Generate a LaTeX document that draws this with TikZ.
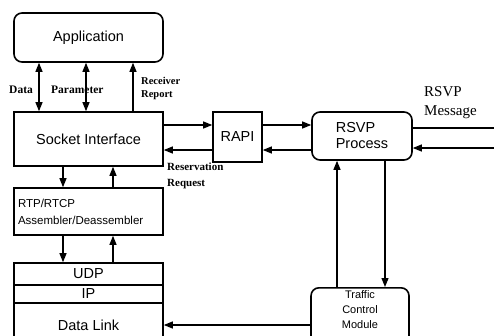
\documentclass[tikz,border=0pt]{standalone}
\usepackage{fontspec}
\setmainfont{Liberation Serif}
\newfontfamily\hv{Liberation Sans}
\usetikzlibrary{arrows.meta,calc}
\begin{document}
\begin{tikzpicture}[x=1pt,y=-1pt,
  box/.style={draw,line width=1.6pt,inner sep=0pt,font=\hv\fontsize{14.5}{16}\selectfont,align=center},
  rbox/.style={box,rounded corners=8pt},
  con/.style={line width=1.2pt},
  tip/.style={-{Triangle[length=9pt,width=7pt]}},
  dtip/.style={{Triangle[length=9pt,width=7pt]}-{Triangle[length=9pt,width=7pt]}},
  lab/.style={font=\bfseries\fontsize{11.5}{12}\selectfont,inner sep=0pt,anchor=west}]
\useasboundingbox (0,0) rectangle (494,335);
\clip (0,0) rectangle (494,335);
% boxes
\node[rbox,minimum width=149pt,minimum height=49pt] (app) at (88.5,37.5) {Application};
\node[box,minimum width=149pt,minimum height=54pt] (sock) at (88.5,139) {Socket Interface};
\node[box,minimum width=49pt,minimum height=50pt] (rapi) at (237.5,137) {RAPI};
\node[rbox,minimum width=100pt,minimum height=48pt,align=left] (rsvp) at (362,136) {RSVP\\Process};
\node[box,minimum width=149pt,minimum height=47pt,font=\hv\fontsize{11.5}{17}\selectfont,align=left,text width=141pt] (rtp) at (88.5,211.5) {RTP/RTCP\\Assembler/Deassembler};
\node[box,minimum width=149pt,minimum height=22pt] (udp) at (88.5,274) {UDP};
\node[box,minimum width=149pt,minimum height=18pt] (ip) at (88.5,294) {IP};
\node[box,minimum width=149pt,minimum height=44pt] (dl) at (88.5,325) {Data Link};
\node[rbox,minimum width=98pt,minimum height=66pt,anchor=north] (tc) at (360,287) {};
\node[font=\hv\fontsize{11}{15}\selectfont,align=center,anchor=north,inner sep=0pt] (tct) at (360,290) {Traffic\\Control\\Module};
% coordinates
\coordinate (xd) at (39,0);
\coordinate (xp) at (86,0);
\coordinate (xr) at (133,0);
\coordinate (xa) at (63,0);
\coordinate (xb) at (113,0);
\coordinate (y1) at (0,125);
\coordinate (y2) at (0,150);
\coordinate (ym1) at (0,128);
\coordinate (ym2) at (0,148);
\coordinate (edge1) at (494,128);
\coordinate (edge2) at (494,148);
\coordinate (xu) at (337,0);
\coordinate (xw) at (385,0);
\coordinate (ydl) at (0,325);
% app <-> socket
\draw[con,dtip] (app.south -| xd) -- (sock.north -| xd);
\draw[con,dtip] (app.south -| xp) -- (sock.north -| xp);
\draw[con,tip] (sock.north -| xr) -- (app.south -| xr);
% socket <-> rapi <-> rsvp
\draw[con,tip] (sock.east |- y1) -- (rapi.west |- y1);
\draw[con,tip] (rapi.west |- y2) -- (sock.east |- y2);
\draw[con,tip] (rapi.east |- y1) -- (rsvp.west |- y1);
\draw[con,tip] (rsvp.west |- y2) -- (rapi.east |- y2);
% rsvp messages
\draw[con] (rsvp.east |- ym1) -- (edge1);
\draw[con,tip] (edge2) -- (rsvp.east |- ym2);
% rsvp <-> tc
\draw[con,tip] (tc.north -| xu) -- (rsvp.south -| xu);
\draw[con,tip] (rsvp.south -| xw) -- (tc.north -| xw);
% socket <-> rtp <-> udp
\draw[con,tip] (sock.south -| xa) -- (rtp.north -| xa);
\draw[con,tip] (rtp.north -| xb) -- (sock.south -| xb);
\draw[con,tip] (rtp.south -| xa) -- (udp.north -| xa);
\draw[con,tip] (udp.north -| xb) -- (rtp.south -| xb);
% tc -> data link
\draw[con,tip] (tc.west |- ydl) -- (dl.east |- ydl);
% labels
\node[lab] (ldata) at (9,90) {Data};
\node[lab] (lpar) at (51,90) {Parameter};
\node[lab,align=left,font=\bfseries\fontsize{10.5}{13}\selectfont] (lrec) at (141,88.5) {Receiver\\Report};
\node[lab,align=left,font=\bfseries\fontsize{11}{16}\selectfont] (lres) at (167,176) {Reservation\\Request};
\node[lab,align=left,font=\fontsize{15}{19}\selectfont] (lmsg) at (424,103) {RSVP\\Message};
\end{tikzpicture}
\end{document}
